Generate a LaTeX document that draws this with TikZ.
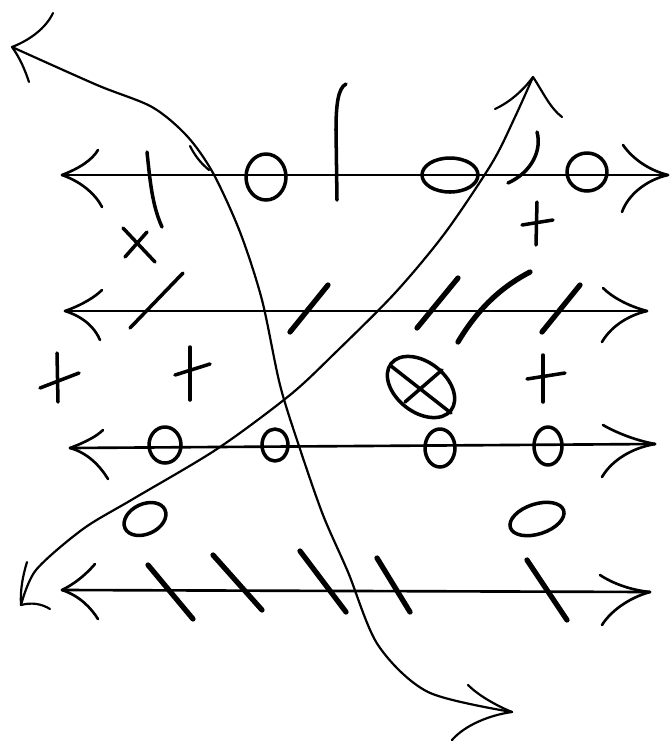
\documentclass[tikz,border=0pt]{standalone}
\begin{document}
\begin{tikzpicture}[x=0.02cm,y=-0.02cm,line cap=round,line join=round,
  axisline/.style={line width=1.5pt},
  curveline/.style={line width=1.25pt},
  pen/.style={line width=2pt},
  heavy/.style={line width=3pt}]
\useasboundingbox (0,0) rectangle (670,745);
\fill[white] (0,0) rectangle (670,745);

% horizontal lines with curved arrowheads
\draw[axisline] (62,175) -- (668,175);
\draw[axisline] (62,175) .. controls (80,168) and (92,160) .. (98,150);
\draw[axisline] (62,175) .. controls (82,182) and (96,195) .. (102,207);
\draw[axisline] (668,175) .. controls (648,170) and (632,158) .. (623,145);
\draw[axisline] (668,175) .. controls (646,180) and (628,195) .. (622,212);

\draw[axisline] (65,311) -- (647,311);
\draw[axisline] (65,311) .. controls (82,305) and (95,297) .. (102,290);
\draw[axisline] (65,311) .. controls (84,317) and (95,328) .. (100,340);
\draw[axisline] (647,311) .. controls (628,306) and (612,297) .. (603,288);
\draw[axisline] (647,311) .. controls (626,316) and (610,328) .. (602,342);

\draw[axisline] (70,448) -- (655,444);
\draw[axisline] (70,448) .. controls (86,442) and (97,436) .. (103,430);
\draw[axisline] (70,448) .. controls (88,453) and (100,466) .. (108,479);
\draw[axisline] (655,444) .. controls (634,440) and (615,432) .. (603,425);
\draw[axisline] (655,444) .. controls (632,448) and (612,460) .. (602,477);

\draw[axisline] (62,590) -- (650,592);
\draw[axisline] (62,590) .. controls (78,582) and (88,572) .. (95,564);
\draw[axisline] (62,590) .. controls (80,596) and (91,608) .. (98,619);
\draw[axisline] (650,592) .. controls (630,590) and (612,583) .. (600,575);
\draw[axisline] (650,592) .. controls (628,598) and (610,612) .. (602,625);

% curve from top-left to bottom-right
\draw[curveline] plot[smooth,tension=0.5] coordinates {
 (12,47) (97,85) (152,107) (187,136) (213,173) (240,232) (262,300)
 (280,385) (300,449) (323,515) (348,572) (378,645) (428,692) (512,712)};
\draw[curveline] (190,146) .. controls (196,158) and (203,165) .. (209,170);
\draw[curveline] (12,47) .. controls (30,40) and (46,28) .. (53,13);
\draw[curveline] (12,47) .. controls (20,58) and (25,70) .. (29,82);
\draw[curveline] (512,712) .. controls (495,705) and (478,695) .. (468,685);
\draw[curveline] (512,712) .. controls (490,715) and (465,725) .. (452,740);

% curve from bottom-left to top-right
\draw[curveline] plot[smooth,tension=0.5] coordinates {
 (21,605) (36,570) (83,529) (133,499) (217,449) (290,395) (335,353)
 (395,293) (445,233) (492,163) (515,117) (533,77)};
\draw[curveline] (533,77) .. controls (522,92) and (508,103) .. (495,109);
\draw[curveline] (533,77) .. controls (543,92) and (550,108) .. (562,117);
\draw[curveline] (21,605) .. controls (20,590) and (23,575) .. (27,562);
\draw[curveline] (21,605) .. controls (32,602) and (42,604) .. (50,609);

% row 1 marks
\draw[pen] (147,152) .. controls (150,180) and (152,205) .. (162,227);
\draw[pen] (266,177) ellipse (20 and 23);
\draw[pen] (346,84) .. controls (338,88) and (336,105) .. (336,130) -- (337,200);
\draw[pen] (450,175) ellipse (28 and 17);
\draw[pen] (537,132) .. controls (542,150) and (532,172) .. (508,183);
\draw[pen] (587,172) ellipse (20 and 19);
\draw[pen] (123,228) -- (155,262);
\draw[pen] (147,232) -- (125,257);
\draw[pen] (537,202) -- (536,245);
\draw[pen] (522,225) -- (553,220);

% row 2 marks
\draw[pen] (130,328) -- (183,273);
\draw[heavy] (290,332) -- (328,285);
\draw[heavy] (417,328) -- (458,278);
\draw[heavy] (458,342) .. controls (480,305) and (505,285) .. (530,272);
\draw[heavy] (542,332) -- (580,285);
\draw[pen] (57,353) -- (58,402);
\draw[pen] (40,388) -- (79,373);
\draw[pen] (190,347) -- (190,400);
\draw[pen] (175,375) -- (210,364);
\draw[pen] (543,355) -- (543,402);
\draw[pen] (527,379) -- (565,373);
\draw[pen] (421,387) ellipse [x radius=38, y radius=25, rotate=-38];
\draw[pen] (391,366) -- (451,413);
\draw[pen] (405,402) -- (442,370);

% row 3 marks
\draw[pen] (165,445) ellipse (16 and 18);
\draw[pen] (275,445) ellipse (13 and 16);
\draw[pen] (440,448) ellipse (15 and 19);
\draw[pen] (548,446) ellipse (14 and 19);
\draw[pen] (145,519) ellipse [x radius=22, y radius=15, rotate=25];
\draw[pen] (537,519) ellipse [x radius=28, y radius=15, rotate=18];

% row 4 marks
\draw[heavy] (148,565) -- (193,619);
\draw[heavy] (213,555) -- (262,610);
\draw[heavy] (300,551) -- (346,612);
\draw[heavy] (377,558) -- (410,612);
\draw[heavy] (527,560) -- (567,620);
\end{tikzpicture}
\end{document}
